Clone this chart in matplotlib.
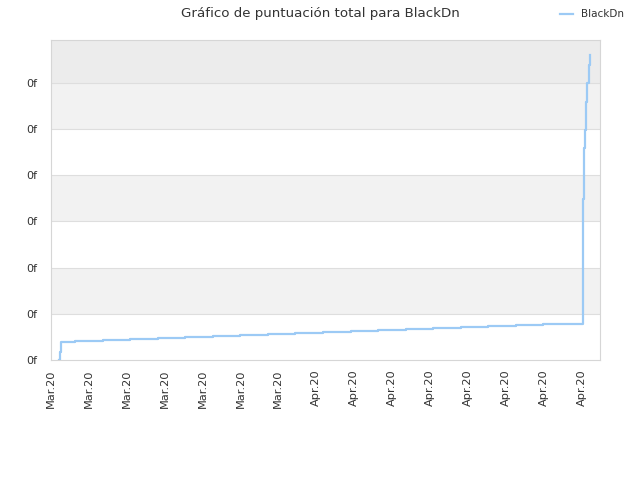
import matplotlib
matplotlib.use("Agg")
import matplotlib.pyplot as plt

# x in tick units (one tick step), y in gridline units
steps_x = [0.22, 0.24, 0.26, 0.63, 1.37, 2.08, 2.82, 3.54, 4.27, 4.99, 5.73,
           6.44, 7.18, 7.92, 8.63, 9.37, 10.08, 10.82, 11.53, 12.27, 12.98,
           13.72, 14.04, 14.045, 14.05, 14.07, 14.10, 14.12, 14.16, 14.19, 14.22]
steps_y = [0.00, 0.17, 0.38, 0.41, 0.43, 0.45, 0.48, 0.50, 0.52, 0.54, 0.56,
           0.58, 0.61, 0.63, 0.65, 0.67, 0.69, 0.71, 0.74, 0.76, 0.78,
           0.79, 1.19, 2.40, 3.48, 4.59, 4.98, 5.58, 5.99, 6.38, 6.60]

x_ticks = list(range(15))
x_labels = ["Mar.20"] * 7 + ["Apr.20"] * 8
y_ticks = list(range(7))
y_labels = ["0f"] * 7

LINE = "#9ccaf5"
TXT = "#333333"

fig = plt.figure(figsize=(6.4, 4.8), dpi=100)
ax = fig.add_axes([51 / 640, 120 / 480, 549 / 640, 320 / 480])

# alternating background bands
band_cols = ["white", "#f2f2f2", "white", "#f2f2f2", "white", "#f2f2f2"]
for i, c in enumerate(band_cols):
    ax.axhspan(i, i + 1, color=c, zorder=0, lw=0)
ax.axhspan(6, 6.93, color="#ececec", zorder=0, lw=0)
for yv in y_ticks[1:]:
    ax.axhline(yv, color="#dedede", lw=0.8, zorder=1)

ax.plot(steps_x, steps_y, drawstyle="steps-post", color=LINE, lw=1.6,
        label="BlackDn", zorder=3)

ax.set_xlim(0, 14.49)
ax.set_ylim(0, 6.93)
ax.set_xticks(x_ticks)
ax.set_xticklabels(x_labels, rotation=90, fontsize=8.2, color=TXT)
ax.set_yticks(y_ticks)
ax.set_yticklabels(y_labels, fontsize=8, color=TXT)
ax.tick_params(axis="x", length=0, pad=7)
ax.tick_params(axis="y", length=0, pad=10)
for s in ax.spines.values():
    s.set_color("#d6d6d6")

fig.suptitle("Gráfico de puntuación total para BlackDn", x=0.5, y=0.985,
             fontsize=9.6, color=TXT)
fig.legend(loc="upper right", bbox_to_anchor=(0.99, 1.0), frameon=False,
           fontsize=7.5, handlelength=1.2, labelcolor=TXT)

fig.savefig("out.png", dpi=100)
